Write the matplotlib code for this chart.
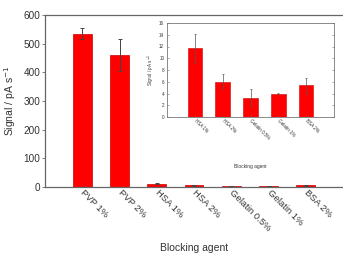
import matplotlib
matplotlib.use("Agg")
import matplotlib.pyplot as plt

plt.rcParams["font.family"] = ["Liberation Sans", "DejaVu Sans"]

agents = ["PVP 1%", "PVP 2%", "HSA 1%", "HSA 2%", "Gelatin 0.5%", "Gelatin 1%", "BSA 2%"]
signal = [535, 460, 11.7, 6.0, 3.3, 4.0, 5.4]
signal_err = [18, 55, 2.5, 1.3, 1.5, 0.1, 1.3]

inset_agents = ["HSA 1%", "HSA 2%", "Gelatin 0.5%", "Gelatin 1%", "BSA 2%"]
inset_signal = [11.7, 6.0, 3.3, 4.0, 5.4]
inset_err = [2.5, 1.3, 1.5, 0.1, 1.3]

RED = "#ff0000"
TEXT = "#333333"
SPINE = "#666666"

fig = plt.figure(figsize=(3.43, 2.56), dpi=100)
ax = fig.add_axes([45 / 343, 69 / 256, 298 / 343, 172 / 256])

ax.bar(range(len(agents)), signal, width=0.5, color=RED, edgecolor="#cc0000", linewidth=0.5,
       yerr=signal_err, ecolor="#444444", error_kw={"elinewidth": 0.7, "capsize": 1.5, "capthick": 0.7})
ax.set_xlim(-1, 7)
ax.set_ylim(0, 600)
ax.set_yticks(range(0, 601, 100))
ax.set_xticks(range(len(agents)))
ax.set_xticklabels(agents, rotation=-45, ha="left", va="center", rotation_mode="anchor")
ax.tick_params(axis="x", length=0, labelsize=6.8, colors=TEXT, pad=3)
ax.tick_params(axis="y", length=2, width=0.6, labelsize=7.2, colors=TEXT, pad=1.5, color=SPINE)
ax.spines["right"].set_visible(False)
for side in ("left", "top", "bottom"):
    ax.spines[side].set_color(SPINE)
    ax.spines[side].set_linewidth(0.9)
ax.set_ylabel("Signal / pA s$^{-1}$", fontsize=7.5, color=TEXT, labelpad=4)
ax.set_xlabel("Blocking agent", fontsize=7.5, color=TEXT)
ax.xaxis.set_label_coords(0.5, -0.325)

ins = fig.add_axes([167 / 343, 139 / 256, 167 / 343, 94 / 256])
ins.bar(range(len(inset_agents)), inset_signal, width=0.52, color=RED, edgecolor="#cc0000", linewidth=0.4,
        yerr=inset_err, ecolor="#555555", error_kw={"elinewidth": 0.5, "capsize": 0.8, "capthick": 0.5})
ins.set_xlim(-1, 5)
ins.set_ylim(0, 16)
ins.set_yticks(range(0, 17, 2))
ins.set_xticks(range(len(inset_agents)))
ins.set_xticklabels(inset_agents, rotation=-45, ha="left", va="center", rotation_mode="anchor")
ins.tick_params(axis="both", direction="in", length=1.5, width=0.4, labelsize=3.3, colors=TEXT,
                color=SPINE, right=True, pad=2)
for spine in ins.spines.values():
    spine.set_color("#777777")
    spine.set_linewidth(0.6)
ins.set_ylabel("Signal / pA s$^{-1}$", fontsize=3.3, color=TEXT, labelpad=2)
ins.set_xlabel("Blocking agent", fontsize=3.5, color=TEXT)
ins.xaxis.set_label_coords(0.5, -0.5)

fig.savefig("out.png", dpi=100)
